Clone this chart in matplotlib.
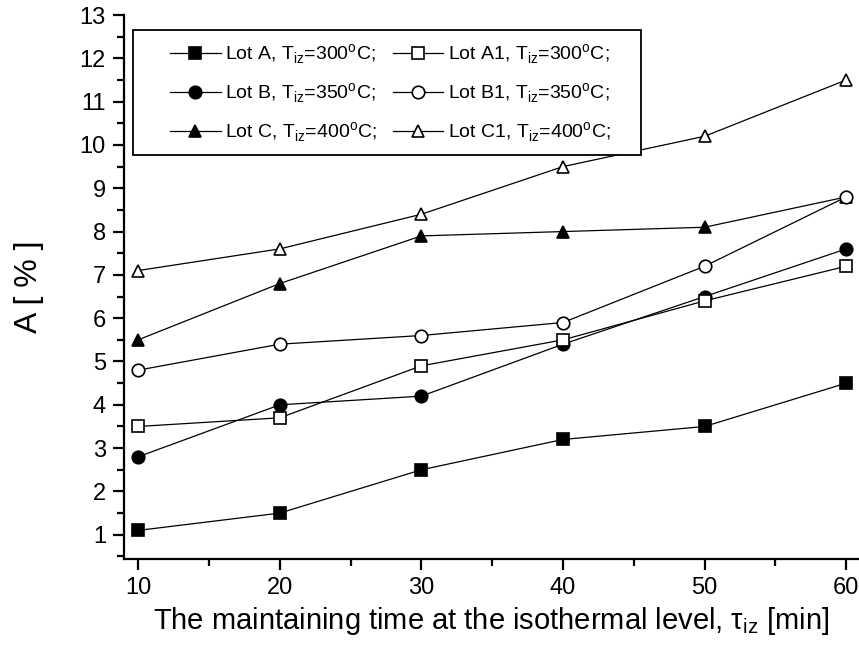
import matplotlib
matplotlib.use("Agg")
import matplotlib.pyplot as plt
from matplotlib.patches import Rectangle
from matplotlib.ticker import MultipleLocator

# =============================
# Data
# =============================
time_min = [10, 20, 30, 40, 50, 60]

lot_a = [1.1, 1.5, 2.5, 3.2, 3.5, 4.5]
lot_b = [2.8, 4.0, 4.2, 5.4, 6.5, 7.6]
lot_c = [5.5, 6.8, 7.9, 8.0, 8.1, 8.8]
lot_a1 = [3.5, 3.7, 4.9, 5.5, 6.4, 7.2]
lot_b1 = [4.8, 5.4, 5.6, 5.9, 7.2, 8.8]
lot_c1 = [7.1, 7.6, 8.4, 9.5, 10.2, 11.5]

labels = [
    r"Lot A, T$_{\mathregular{iz}}$=300$^{\mathregular{o}}$C;",
    r"Lot B, T$_{\mathregular{iz}}$=350$^{\mathregular{o}}$C;",
    r"Lot C, T$_{\mathregular{iz}}$=400$^{\mathregular{o}}$C;",
    r"Lot A1, T$_{\mathregular{iz}}$=300$^{\mathregular{o}}$C;",
    r"Lot B1, T$_{\mathregular{iz}}$=350$^{\mathregular{o}}$C;",
    r"Lot C1, T$_{\mathregular{iz}}$=400$^{\mathregular{o}}$C;",
]

plt.rcParams['font.family'] = ['Liberation Sans', 'DejaVu Sans']
plt.rcParams['mathtext.fontset'] = 'custom'
plt.rcParams['mathtext.rm'] = 'Liberation Sans'

fig = plt.figure(figsize=(8.59, 6.62), dpi=100)
ax = fig.add_axes([124 / 859, 103 / 662, 735 / 859, 544 / 662])

series = [lot_a, lot_b, lot_c, lot_a1, lot_b1, lot_c1]
markers = ['s', 'o', '^', 's', 'o', '^']
fills = ['black', 'black', 'black', 'white', 'white', 'white']

for vals, m, fc, lab in zip(series, markers, fills, labels):
    ax.plot(time_min, vals, color='black', lw=0.9, marker=m, markersize=9,
            markerfacecolor=fc, markeredgecolor='black', markeredgewidth=1.2,
            label=lab, clip_on=False, zorder=3)

ax.set_xlim(9.0, 60.9)
ax.set_ylim(0.44, 13)
ax.xaxis.set_major_locator(MultipleLocator(10))
ax.xaxis.set_minor_locator(MultipleLocator(5))
ax.yaxis.set_major_locator(MultipleLocator(1))
ax.yaxis.set_minor_locator(MultipleLocator(0.5))

for side in ['top', 'right']:
    ax.spines[side].set_visible(False)
for side in ['left', 'bottom']:
    ax.spines[side].set_linewidth(1.6)

ax.tick_params(which='major', direction='out', length=8, width=1.6, labelsize=17, pad=5)
ax.tick_params(which='minor', direction='out', length=5, width=1.6)

ax.set_xlabel(r"The maintaining time at the isothermal level, τ$_{\mathregular{iz}}$ [min]",
              fontsize=21, labelpad=4)
ax.set_ylabel("A [ % ]", fontsize=23, labelpad=26)

# legend box frame drawn separately so the padding matches the original
ax.add_patch(Rectangle((133 / 859, 1 - 155 / 662), 508 / 859, 125 / 662,
                       transform=fig.transFigure, fill=True, facecolor='white',
                       edgecolor='black', lw=1.3, zorder=4, clip_on=False))
leg = ax.legend(ncol=2, loc='upper left', bbox_to_anchor=(170 / 859, 1 - 42 / 662),
                bbox_transform=fig.transFigure, borderaxespad=0, borderpad=0,
                fontsize=14, frameon=False, handlelength=2.6,
                handletextpad=0.25, columnspacing=0.8, labelspacing=0.78)
leg.set_zorder(5)

fig.savefig("out.png", dpi=100)
